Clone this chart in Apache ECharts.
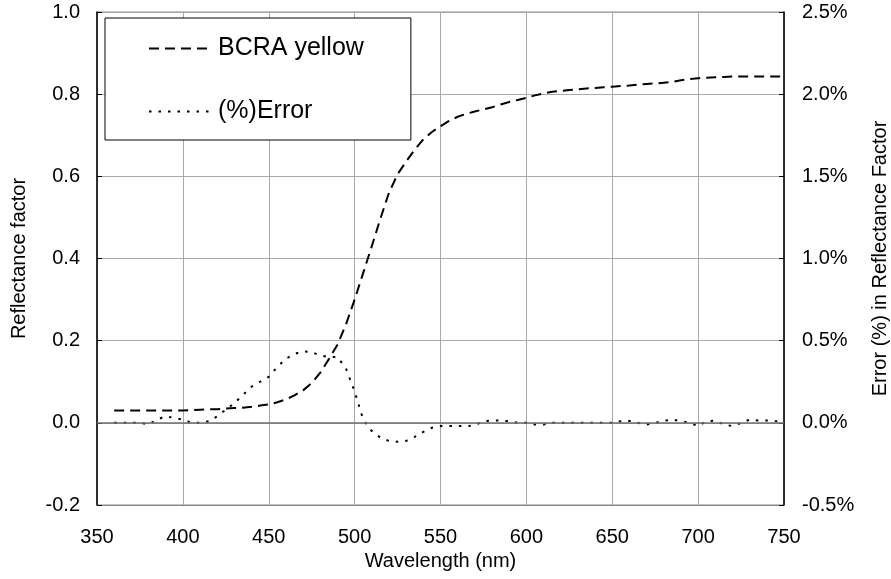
<!DOCTYPE html>
<html>
<head>
<meta charset="utf-8">
<script src="https://cdn.jsdelivr.net/npm/echarts@6/dist/echarts.min.js"></script>
<style>html,body{margin:0;padding:0;background:#fff}#c{width:891px;height:579px}</style>
</head>
<body>
<div id="c"></div>
<script>
const wavelengths = [360,365,370,375,380,385,390,395,400,405,410,415,420,425,430,435,440,445,450,455,460,465,470,475,480,485,490,495,500,505,510,515,520,525,530,535,540,545,550,555,560,565,570,575,580,585,590,595,600,605,610,615,620,625,630,635,640,645,650,655,660,665,670,675,680,685,690,695,700,705,710,715,720,725,730,735,740,745,750];
const bcraYellow = [0.030,0.030,0.030,0.030,0.030,0.030,0.030,0.030,0.030,0.031,0.032,0.033,0.033,0.035,0.036,0.037,0.039,0.042,0.045,0.050,0.057,0.067,0.079,0.097,0.122,0.155,0.190,0.240,0.300,0.365,0.430,0.497,0.560,0.605,0.636,0.665,0.690,0.708,0.722,0.735,0.745,0.752,0.758,0.763,0.768,0.775,0.781,0.786,0.791,0.797,0.802,0.806,0.808,0.810,0.812,0.814,0.815,0.817,0.818,0.820,0.821,0.823,0.825,0.826,0.828,0.830,0.834,0.837,0.839,0.840,0.841,0.842,0.843,0.843,0.843,0.843,0.843,0.843,0.843];
const errorPct = [0.00,0.00,0.00,0.00,-0.01,0.02,0.04,0.03,0.02,0.00,0.00,0.01,0.04,0.08,0.12,0.17,0.22,0.25,0.28,0.34,0.39,0.42,0.435,0.43,0.41,0.40,0.40,0.33,0.19,0.02,-0.05,-0.09,-0.11,-0.115,-0.11,-0.085,-0.055,-0.03,-0.02,-0.02,-0.02,-0.02,-0.015,0.01,0.014,0.014,0.01,0.00,0.00,-0.01,-0.01,0.00,0.00,0.00,0.00,0.00,0.00,0.00,0.00,0.01,0.012,0.00,-0.01,0.00,0.012,0.02,0.01,0.00,-0.02,0.01,0.014,-0.01,-0.02,0.00,0.02,0.014,0.014,0.01,0.01];
const seriesNames = ['BCRA yellow', '(%)Error'];

const FONT = 'Liberation Sans, Arial, sans-serif';
const dashBCRA = [10, 6];
const dashErr = [2.5, 7];
const chart = echarts.init(document.getElementById('c'), null, {renderer: 'canvas'});
chart.setOption({
  animation: false,
  backgroundColor: '#fff',
  textStyle: {fontFamily: FONT, color: '#000'},
  grid: {left: 97, right: 107, top: 12, bottom: 74, show: true, borderColor: '#888', borderWidth: 1,
         containLabel: false, outerBoundsMode: 'none'},
  legend: {
    left: 105, top: 18, orient: 'vertical',
    backgroundColor: '#fff', borderColor: '#000', borderWidth: 1,
    padding: [18, 47, 16, 43],
    itemWidth: 64, itemHeight: 20, itemGap: 38,
    textStyle: {fontFamily: FONT, fontSize: 25, color: '#000'},
    data: [
      {name: seriesNames[0], itemStyle: {opacity: 0}, lineStyle: {color: '#000', width: 2, type: dashBCRA}},
      {name: seriesNames[1], itemStyle: {opacity: 0}, lineStyle: {color: '#000', width: 2, type: dashErr}}
    ]
  },
  xAxis: {
    type: 'value', min: 350, max: 750, interval: 50,
    name: 'Wavelength (nm)', nameLocation: 'middle', nameGap: 44,
    nameTextStyle: {fontFamily: FONT, fontSize: 20, color: '#000'},
    axisLine: {onZero: false, lineStyle: {color: '#888', width: 1}},
    axisTick: {show: false},
    axisLabel: {fontFamily: FONT, fontSize: 20, color: '#000', margin: 22},
    splitLine: {show: true, lineStyle: {color: '#a8a8a8', width: 1}}
  },
  yAxis: [
    {
      type: 'value', min: -0.2, max: 1.0, interval: 0.2,
      name: 'Reflectance factor', nameLocation: 'middle', nameGap: 68, nameRotate: 90,
      nameTextStyle: {fontFamily: FONT, fontSize: 20, color: '#000'},
      axisLine: {show: true, onZero: false, lineStyle: {color: '#000', width: 1.5}},
      axisTick: {show: true, inside: true, length: 5, lineStyle: {color: '#000'}},
      axisLabel: {fontFamily: FONT, fontSize: 20, color: '#000', margin: 17, formatter: v => v.toFixed(1)},
      splitLine: {show: true, lineStyle: {color: '#a8a8a8', width: 1}}
    },
    {
      type: 'value', min: -0.5, max: 2.5, interval: 0.5, position: 'right',
      name: 'Error (%) in Reflectance Factor', nameLocation: 'middle', nameGap: 86, nameRotate: 90,
      nameTextStyle: {fontFamily: FONT, fontSize: 20, color: '#000'},
      axisLine: {show: true, onZero: false, lineStyle: {color: '#000', width: 1.5}},
      axisTick: {show: true, inside: true, length: 5, lineStyle: {color: '#000'}},
      axisLabel: {fontFamily: FONT, fontSize: 20, color: '#000', margin: 18, formatter: v => v.toFixed(1) + '%'},
      splitLine: {show: false}
    }
  ],
  series: [
    {
      name: seriesNames[0], type: 'line', yAxisIndex: 0,
      symbol: 'none', showSymbol: false, smooth: false,
      lineStyle: {color: '#000', width: 2, type: dashBCRA},
      itemStyle: {color: '#000'},
      data: wavelengths.map((w, i) => [w, bcraYellow[i]]),
      markLine: {
        silent: true, symbol: 'none', label: {show: false},
        lineStyle: {color: '#707070', width: 1.5, type: 'solid'},
        data: [{yAxis: 0}]
      },
      z: 3
    },
    {
      name: seriesNames[1], type: 'line', yAxisIndex: 1,
      symbol: 'none', showSymbol: false, smooth: false,
      lineStyle: {color: '#000', width: 2, type: dashErr},
      itemStyle: {color: '#000'},
      data: wavelengths.map((w, i) => [w, errorPct[i]]),
      z: 4
    }
  ]
});
</script>
</body>
</html>
